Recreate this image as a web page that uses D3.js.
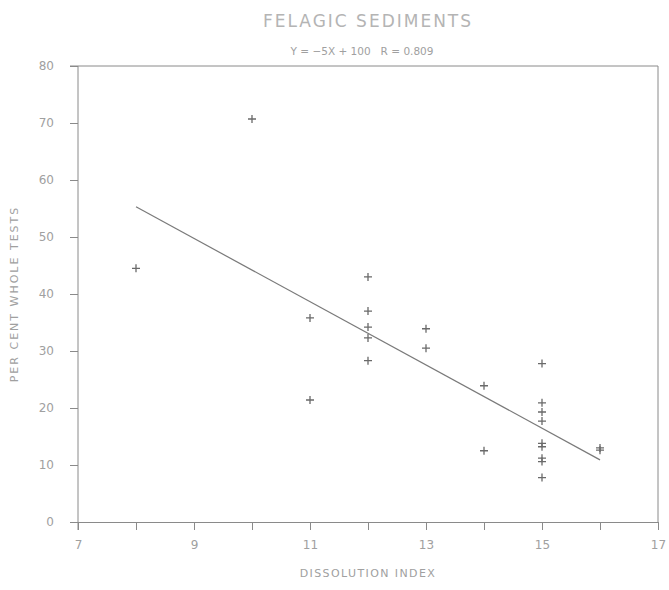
<!DOCTYPE html>
<html>
<head>
<meta charset="utf-8">
<script src="https://cdn.jsdelivr.net/npm/d3@7"></script>
<style>
    body { margin: 0; background: #fff; }
    text { font-family: "DejaVu Sans", sans-serif; fill: #a0a0a0; }
</style>
</head>
<body>
<div id="chart"></div>
<script>
// Data
const dissolutionIndex = [8, 10, 11, 11, 12, 12, 12, 12, 12, 13, 13, 14, 14,
    15, 15, 15, 15, 15, 15, 15, 15, 15, 16, 16];
const perCentWhole = [44.5, 70.7, 35.8, 21.4, 43.0, 37.0, 34.2, 32.3, 28.3, 33.9, 30.5, 23.9, 12.5,
    27.8, 20.9, 19.3, 17.7, 13.8, 13.2, 11.2, 10.6, 7.8, 13.0, 12.6];
const xTicks = [7, 8, 9, 10, 11, 12, 13, 14, 15, 16, 17];
const xTickLabels = [7, 9, 11, 13, 15, 17];
const yTicks = [0, 10, 20, 30, 40, 50, 60, 70, 80];
const fitRange = [8, 16];
const fitSlope = -5.55;
const fitIntercept = 99.7;
const titleText = "FELAGIC SEDIMENTS";
const subtitleText = "Y = \u22125X + 100   R = 0.809";
const xLabel = "DISSOLUTION INDEX";
const yLabel = "PER CENT WHOLE TESTS";

// Configuration object
const config = {
    width: 669,
    height: 590,
    margin: { top: 66, right: 11, bottom: 68, left: 78 },
    tickSize: 8,
    markerSize: 4,
    colors: {
        axis: "#8a8a8a",
        marker: "#6a6a6a",
        fit: "#7a7a7a",
        text: "#a0a0a0"
    }
};

const innerW = config.width - config.margin.left - config.margin.right;
const innerH = config.height - config.margin.top - config.margin.bottom;

const svg = d3.select("#chart")
    .append("svg")
    .attr("width", config.width)
    .attr("height", config.height);

const g = svg.append("g")
    .attr("transform", `translate(${config.margin.left},${config.margin.top})`);

const x = d3.scaleLinear().domain([7, 17]).range([0, innerW]);
const y = d3.scaleLinear().domain([0, 80]).range([innerH, 0]);

// Frame (top and right sides)
g.append("path")
    .attr("d", `M${-config.tickSize},0H${innerW}V${innerH}`)
    .attr("fill", "none")
    .attr("stroke", config.colors.axis)
    .attr("stroke-width", 1);

// Axes
const xAxis = g.append("g")
    .attr("transform", `translate(0,${innerH})`)
    .call(d3.axisBottom(x)
        .tickValues(xTicks)
        .tickSize(config.tickSize)
        .tickSizeOuter(0)
        .tickPadding(10)
        .tickFormat(d => xTickLabels.includes(d) ? d : ""));

const yAxis = g.append("g")
    .call(d3.axisLeft(y)
        .tickValues(yTicks)
        .tickSize(config.tickSize)
        .tickSizeOuter(0)
        .tickPadding(16));

[xAxis, yAxis].forEach(ax => {
    ax.select(".domain").attr("stroke", config.colors.axis);
    ax.selectAll(".tick line").attr("stroke", config.colors.axis);
    ax.selectAll(".tick text")
        .attr("fill", config.colors.text)
        .style("font-family", "'DejaVu Sans', sans-serif")
        .style("font-size", "12px");
});
// left axis line extends a little below zero like the original
yAxis.select(".domain").attr("d", `M0,0V${innerH + config.tickSize}`);

// Regression line
g.append("line")
    .attr("x1", x(fitRange[0]))
    .attr("y1", y(fitSlope * fitRange[0] + fitIntercept))
    .attr("x2", x(fitRange[1]))
    .attr("y2", y(fitSlope * fitRange[1] + fitIntercept))
    .attr("stroke", config.colors.fit)
    .attr("stroke-width", 1.2);

// Plus markers
const s = config.markerSize;
g.selectAll(".pt")
    .data(dissolutionIndex.map((d, i) => ({ x: d, y: perCentWhole[i] })))
    .enter()
    .append("path")
    .attr("class", "pt")
    .attr("d", d => {
        const px = x(d.x), py = y(d.y);
        return `M${px - s},${py}H${px + s}M${px},${py - s}V${py + s}`;
    })
    .attr("stroke", config.colors.marker)
    .attr("stroke-width", 1.3);

// Titles
svg.append("text")
    .attr("x", config.margin.left + innerW / 2)
    .attr("y", 27)
    .attr("text-anchor", "middle")
    .style("font-size", "17px")
    .style("letter-spacing", "2px")
    .style("fill", "#b4b4b4")
    .text(titleText);

svg.append("text")
    .attr("x", 362)
    .attr("y", 55)
    .attr("text-anchor", "middle")
    .style("font-size", "10.5px")
    .style("white-space", "pre")
    .text(subtitleText);

svg.append("text")
    .attr("x", config.margin.left + innerW / 2)
    .attr("y", 577)
    .attr("text-anchor", "middle")
    .style("font-size", "11px")
    .style("letter-spacing", "1.4px")
    .text(xLabel);

svg.append("text")
    .attr("transform", `translate(18,${config.margin.top + innerH / 2}) rotate(-90)`)
    .attr("text-anchor", "middle")
    .style("font-size", "11px")
    .style("letter-spacing", "2px")
    .text(yLabel);
</script>
</body>
</html>
